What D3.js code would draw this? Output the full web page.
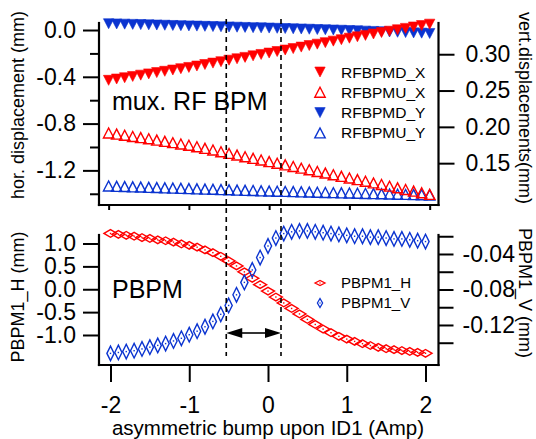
<!DOCTYPE html>
<html>
<head>
<meta charset="utf-8">
<script src="https://cdn.jsdelivr.net/npm/d3@7"></script>
<style>
  html, body { margin: 0; padding: 0; background: #fff; }
  svg { display: block; font-family: "Liberation Sans", Arial, Helvetica, sans-serif; }
</style>
</head>
<body>
<svg id="chart" width="536" height="439"></svg>
<script>
// Bump current on ID1 (Amp), one reading every 0.1 A
const bumpAmp = [-2.0,-1.9,-1.8,-1.7,-1.6,-1.5,-1.4,-1.3,-1.2,-1.1,-1.0,-0.9,-0.8,-0.7,-0.6,-0.5,-0.4,-0.3,-0.2,-0.1,
  0.0,0.1,0.2,0.3,0.4,0.5,0.6,0.7,0.8,0.9,1.0,1.1,1.2,1.3,1.4,1.5,1.6,1.7,1.8,1.9,2.0];

// RF BPM horizontal readings (mm)
const rfbpmdX = [-0.430,-0.419,-0.408,-0.397,-0.386,-0.375,-0.364,-0.353,-0.342,-0.331,-0.320,-0.308,-0.295,-0.283,-0.271,
  -0.258,-0.246,-0.234,-0.221,-0.209,-0.197,-0.184,-0.171,-0.159,-0.146,-0.133,-0.121,-0.108,-0.095,-0.083,-0.070,
  -0.058,-0.046,-0.034,-0.022,-0.010,0.002,0.014,0.026,0.038,0.050];
const rfbpmuX = [-0.880,-0.890,-0.900,-0.910,-0.920,-0.930,-0.941,-0.952,-0.963,-0.974,-0.985,-0.998,-1.012,-1.026,-1.041,
  -1.055,-1.069,-1.083,-1.097,-1.111,-1.125,-1.139,-1.153,-1.167,-1.181,-1.195,-1.209,-1.223,-1.237,-1.251,-1.265,
  -1.279,-1.293,-1.307,-1.321,-1.335,-1.349,-1.363,-1.377,-1.391,-1.405];
// RF BPM vertical readings (mm)
const rfbpmdY = [0.3420,0.3417,0.3414,0.3411,0.3408,0.3405,0.3402,0.3399,0.3396,0.3393,0.3390,0.3387,0.3384,0.3381,0.3378,
  0.3375,0.3372,0.3369,0.3366,0.3363,0.3360,0.3357,0.3354,0.3350,0.3347,0.3344,0.3340,0.3337,0.3333,0.3330,0.3326,
  0.3322,0.3318,0.3314,0.3310,0.3306,0.3302,0.3298,0.3294,0.3290,0.3286];
const rfbpmuY = [0.1185,0.1181,0.1178,0.1174,0.1171,0.1167,0.1164,0.1160,0.1157,0.1153,0.1150,0.1146,0.1143,0.1140,0.1136,
  0.1133,0.1129,0.1126,0.1123,0.1119,0.1116,0.1113,0.1111,0.1108,0.1105,0.1102,0.1100,0.1097,0.1094,0.1091,0.1089,
  0.1086,0.1083,0.1081,0.1078,0.1075,0.1073,0.1070,0.1067,0.1065,0.1062];

// Photon BPM readings (mm)
const pbpm1H = [1.22,1.20,1.18,1.16,1.13,1.11,1.08,1.06,1.03,0.99,0.96,0.92,0.86,0.80,0.72,0.62,0.51,0.38,0.24,0.10,
  -0.04,-0.17,-0.30,-0.42,-0.54,-0.66,-0.77,-0.87,-0.95,-1.03,-1.09,-1.14,-1.19,-1.23,-1.27,-1.30,-1.32,-1.34,-1.36,-1.38,-1.40];
const pbpm1V = [-0.152,-0.151,-0.150,-0.149,-0.147,-0.145,-0.143,-0.141,-0.138,-0.135,-0.131,-0.127,-0.122,-0.116,-0.108,
  -0.098,-0.086,-0.072,-0.058,-0.044,-0.031,-0.022,-0.017,-0.015,-0.014,-0.014,-0.015,-0.016,-0.017,-0.018,-0.019,
  -0.020,-0.020,-0.021,-0.021,-0.022,-0.023,-0.023,-0.024,-0.025,-0.026];

// Axis ticks
const xTicks = [-2, -1, 0, 1, 2];
const topLeftMajor = [0.0, -0.4, -0.8, -1.2];
const topLeftMinor = [-0.2, -0.6, -1.0, -1.4];
const topRightMajor = [0.15, 0.20, 0.25, 0.30];
const botLeftMajor = [1.0, 0.5, 0.0, -0.5, -1.0];
const botRightMajor = [-0.04, -0.08, -0.12];
const botRightMinor = [-0.02, -0.06, -0.10, -0.14];

// Bump window boundaries (Amp)
const windowEdges = [-0.53, 0.165];

const RED = "#ff0000", BLUE = "#0b34d0";
const TICK_FONT = 23;
const svg = d3.select("#chart");
const fmt = d3.formatLocale({decimal: ".", thousands: ",", grouping: [3], currency: ["", ""], minus: "-"});

const L = 99, R = 438.5;
const panelTop = {t: 23, b: 205}, panelBot = {t: 235, b: 365};

const xTop = d3.scaleLinear().domain([-2.12, 2.11]).range([L, R]);
const xBot = d3.scaleLinear().domain([-2.146, 2.165]).range([L, R]);
const yTopL = d3.scaleLinear().domain([-1.496, 0.060]).range([panelTop.b, panelTop.t]);
const yTopR = d3.scaleLinear().domain([0.0924, 0.3430]).range([panelTop.b, panelTop.t]);
const yBotL = d3.scaleLinear().domain([-1.656, 1.186]).range([panelBot.b, panelBot.t]);
const yBotR = d3.scaleLinear().domain([-0.1651, -0.0186]).range([panelBot.b, panelBot.t]);

function styleAxis(g) {
  g.select(".domain").remove();
  g.selectAll(".tick line").attr("stroke", "#000").attr("stroke-width", 2);
  g.selectAll(".tick text").attr("fill", "#000").style("font-size", TICK_FONT + "px")
    .style("font-family", "'Liberation Sans', Arial, sans-serif");
}

function axisLine(x1, y1, x2, y2) {
  svg.append("line").attr("x1", x1).attr("y1", y1).attr("x2", x2).attr("y2", y2)
    .attr("stroke", "#000").attr("stroke-width", 2.2).attr("stroke-linecap", "square");
}

// ---------- Top panel: mux. RF BPM ----------
styleAxis(svg.append("g").attr("transform", `translate(${L},0)`)
  .call(d3.axisLeft(yTopL).tickValues(topLeftMajor).tickSize(16).tickPadding(7).tickFormat(fmt.format(".1f"))));
styleAxis(svg.append("g").attr("transform", `translate(${L},0)`)
  .call(d3.axisLeft(yTopL).tickValues(topLeftMinor).tickSize(9).tickFormat("")));
styleAxis(svg.append("g").attr("transform", `translate(${R},0)`)
  .call(d3.axisRight(yTopR).tickValues(topRightMajor).tickSize(16).tickPadding(11).tickFormat(fmt.format(".2f"))));
styleAxis(svg.append("g").attr("transform", `translate(0,${panelTop.b})`)
  .call(d3.axisBottom(xTop).tickValues(xTicks).tickSize(5).tickFormat("")));
axisLine(L, panelTop.t, L, panelTop.b);
axisLine(R, panelTop.t, R, panelTop.b);
axisLine(L, panelTop.b, R, panelTop.b);

function triPath(cx, cy, up) {
  const w = 5.2, h = 5;
  return up
    ? `M${cx - w},${cy + h}L${cx + w},${cy + h}L${cx},${cy - h}Z`
    : `M${cx - w},${cy - h}L${cx + w},${cy - h}L${cx},${cy + h}Z`;
}
function diaPath(cx, cy, hw, hh) {
  return `M${cx - hw},${cy}L${cx},${cy - hh}L${cx + hw},${cy}L${cx},${cy + hh}Z`;
}

function triSeries(values, yScale, color, filled, up) {
  svg.append("g").selectAll("path").data(values).join("path")
    .attr("d", (v, i) => triPath(xTop(bumpAmp[i]), yScale(v), up))
    .attr("fill", filled ? color : "none")
    .attr("stroke", color).attr("stroke-width", filled ? 0.6 : 1.4)
    .attr("stroke-linejoin", "miter");
}
triSeries(rfbpmuY, yTopR, BLUE, false, true);
triSeries(rfbpmuX, yTopL, RED, false, true);
triSeries(rfbpmdY, yTopR, BLUE, true, false);
triSeries(rfbpmdX, yTopL, RED, true, false);

svg.append("text").attr("x", 112).attr("y", 110).attr("font-size", 25).attr("fill", "#000").text("mux. RF BPM");

// top legend
const topLegend = [
  {name: "RFBPMD_X", color: RED, filled: true, up: false},
  {name: "RFBPMU_X", color: RED, filled: false, up: true},
  {name: "RFBPMD_Y", color: BLUE, filled: true, up: false},
  {name: "RFBPMU_Y", color: BLUE, filled: false, up: true}
];
const tl = svg.append("g").selectAll("g").data(topLegend).join("g")
  .attr("transform", (d, i) => `translate(320,${72 + i * 20.3})`);
tl.append("path").attr("d", d => triPath(0, 0, d.up))
  .attr("fill", d => d.filled ? d.color : "none").attr("stroke", d => d.color)
  .attr("stroke-width", d => d.filled ? 0.6 : 1.4);
tl.append("text").attr("x", 21).attr("dy", "0.36em").attr("font-size", 15.5).attr("fill", "#000").text(d => d.name);

// axis titles, top panel
svg.append("text").attr("transform", "translate(24,105) rotate(-90)").attr("text-anchor", "middle")
  .attr("font-size", 18).attr("fill", "#000").text("hor. displacement (mm)");
svg.append("text").attr("transform", "translate(519,108) rotate(90)").attr("text-anchor", "middle")
  .attr("font-size", 18).attr("fill", "#000").text("vert.displacements(mm)");

// ---------- Bottom panel: PBPM ----------
styleAxis(svg.append("g").attr("transform", `translate(${L},0)`)
  .call(d3.axisLeft(yBotL).tickValues(botLeftMajor).tickSize(16).tickPadding(7).tickFormat(fmt.format(".1f"))));
styleAxis(svg.append("g").attr("transform", `translate(${R},0)`)
  .call(d3.axisRight(yBotR).tickValues(botRightMajor).tickSize(15).tickPadding(9).tickFormat(fmt.format(".2f"))));
styleAxis(svg.append("g").attr("transform", `translate(${R},0)`)
  .call(d3.axisRight(yBotR).tickValues(botRightMinor).tickSize(15).tickFormat("")));
styleAxis(svg.append("g").attr("transform", `translate(0,${panelBot.b})`)
  .call(d3.axisBottom(xBot).tickValues(xTicks).tickSize(17).tickPadding(15).tickFormat(fmt.format("d"))));
axisLine(L, panelBot.t, L, panelBot.b);
axisLine(R, panelBot.t, R, panelBot.b);
axisLine(L, panelBot.b, R, panelBot.b);

function diaSeries(values, yScale, color, hw, hh) {
  const g = svg.append("g");
  g.selectAll("path").data(values).join("path")
    .attr("d", (v, i) => diaPath(xBot(bumpAmp[i]), yScale(v), hw, hh))
    .attr("fill", "none").attr("stroke", color).attr("stroke-width", 1.4);
  g.selectAll("rect").data(values).join("rect")
    .attr("x", (v, i) => xBot(bumpAmp[i]) - 0.7).attr("y", v => yScale(v) - 0.7)
    .attr("width", 1.4).attr("height", 1.4).attr("fill", color);
}
diaSeries(pbpm1H, yBotL, RED, 6.5, 3.8);
diaSeries(pbpm1V, yBotR, BLUE, 3.6, 7.3);

svg.append("text").attr("x", 112).attr("y", 298).attr("font-size", 25).attr("fill", "#000").text("PBPM");

const botLegend = [
  {name: "PBPM1_H", color: RED, hw: 5, hh: 2.6},
  {name: "PBPM1_V", color: BLUE, hw: 2.6, hh: 4.5}
];
const bl = svg.append("g").selectAll("g").data(botLegend).join("g")
  .attr("transform", (d, i) => `translate(320,${283 + i * 20})`);
bl.append("path").attr("d", d => diaPath(0, 0, d.hw, d.hh)).attr("fill", "none")
  .attr("stroke", d => d.color).attr("stroke-width", 1.3);
bl.append("rect").attr("x", -0.6).attr("y", -0.6).attr("width", 1.2).attr("height", 1.2).attr("fill", d => d.color);
bl.append("text").attr("x", 21).attr("dy", "0.36em").attr("font-size", 15).attr("fill", "#000").text(d => d.name);

svg.append("text").attr("transform", "translate(24,297) rotate(-90)").attr("text-anchor", "middle")
  .attr("font-size", 18).attr("fill", "#000").text("PBPM1_H (mm)");
svg.append("text").attr("transform", "translate(519,293) rotate(90)").attr("text-anchor", "middle")
  .attr("font-size", 18).attr("fill", "#000").text("PBPM1_V (mm)");
svg.append("text").attr("x", 268).attr("y", 435).attr("text-anchor", "middle")
  .attr("font-size", 20.5).attr("fill", "#000").text("asymmetric bump upon ID1 (Amp)");

// ---------- Bump window markers ----------
svg.append("g").selectAll("line").data(windowEdges).join("line")
  .attr("x1", d => xBot(d)).attr("x2", d => xBot(d)).attr("y1", 19).attr("y2", 356)
  .attr("stroke", "#000").attr("stroke-width", 1.6).attr("stroke-dasharray", "5,4");

const ax0 = xBot(windowEdges[0]), ax1 = xBot(windowEdges[1]), ay = 333;
svg.append("line").attr("x1", ax0 + 14).attr("x2", ax1 - 14).attr("y1", ay).attr("y2", ay)
  .attr("stroke", "#000").attr("stroke-width", 1.6);
svg.append("path").attr("d", `M${ax0},${ay}L${ax0 + 16},${ay - 5}L${ax0 + 16},${ay + 5}Z`).attr("fill", "#000");
svg.append("path").attr("d", `M${ax1},${ay}L${ax1 - 16},${ay - 5}L${ax1 - 16},${ay + 5}Z`).attr("fill", "#000");
</script>
</body>
</html>
